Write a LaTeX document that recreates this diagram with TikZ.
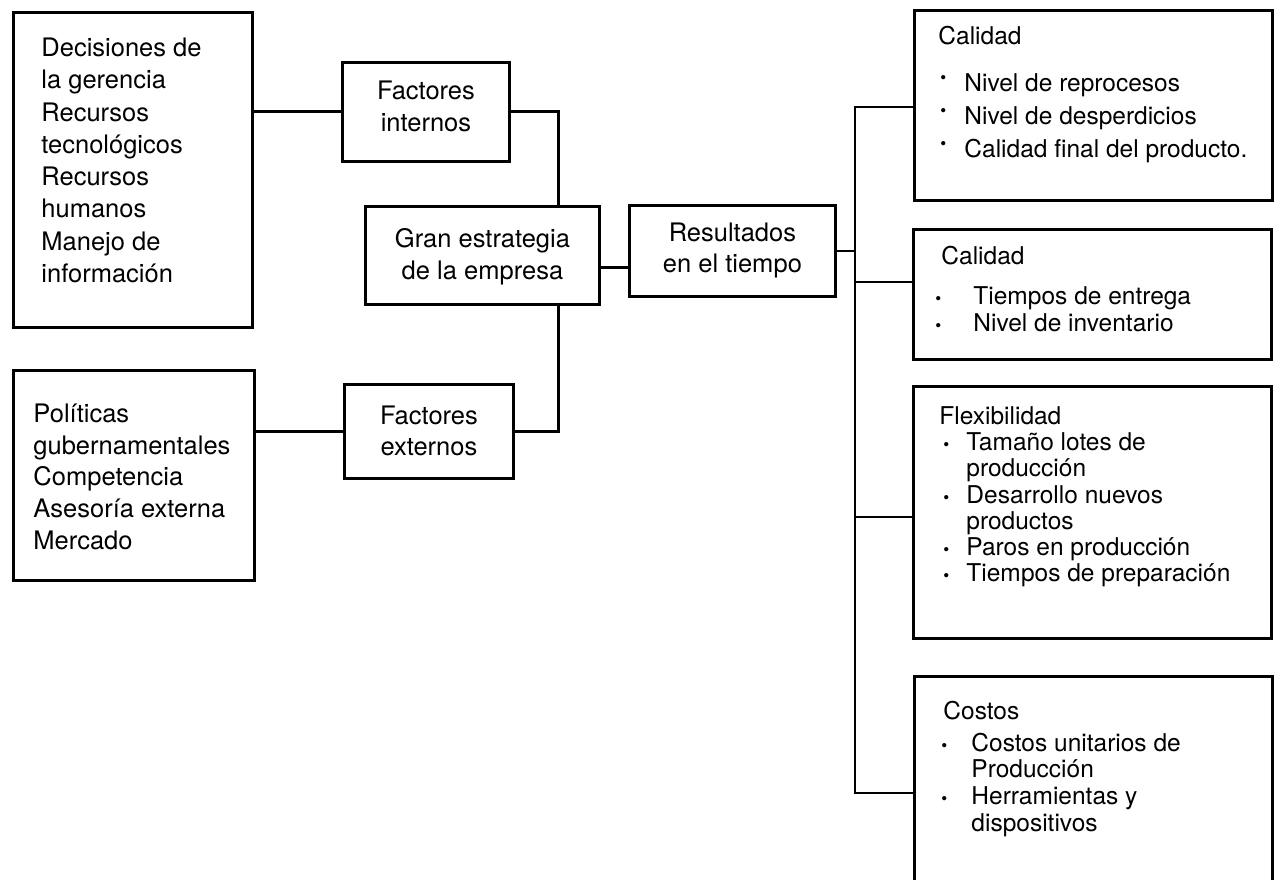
\documentclass[tikz,border=0pt]{standalone}
\usepackage{fontspec}
\setmainfont{TeX Gyre Heros}
% #1 width, #2 height, #3 font size, #4 baselineskip, #5 top pad, #6 content
\newcommand\bxt[6]{\parbox[c][#2][t]{#1}{\fontsize{#3}{#4}\selectfont\lineskiplimit=-100pt\relax\vspace*{#5}#6}}
% #1 bullet centre offset, #2 raise, #3 gap to text
\newcommand\bl[3]{\hspace*{#1}\makebox[0pt]{\raisebox{#2}{\fontsize{17}{17}\selectfont\textbullet}}\hspace*{#3}}
\newcommand\fl{\rule{0pt}{20pt}}
\begin{document}
\begin{tikzpicture}[x=1pt,y=-1pt,
  bx/.style={draw, line width=2.9pt, inner sep=0pt, anchor=north west},
  ln/.style={line width=2.9pt}]
\useasboundingbox (0,0) rectangle (1278,880);

% left column
\node[bx] (a) at (12,11) {\bxt{239pt}{315pt}{25.5}{32.3}{24pt}{\leftskip=28pt\relax\fl Decisiones de\\la gerencia\\Recursos\\tecnológicos\\Recursos\\humanos\\Manejo de\\información}};
\node[bx] (b) at (12,369) {\bxt{241pt}{210pt}{25.5}{31.75}{32pt}{\leftskip=20pt\relax\fl Políticas\\gubernamentales\\Competencia\\Asesoría externa\\Mercado}};

% middle column
\node[bx] (fi) at (341,61) {\bxt{167pt}{99pt}{25.5}{32}{17pt}{\centering\fl Factores\\internos}};
\node[bx] (fe) at (343,383) {\bxt{169pt}{94pt}{25.5}{31}{20pt}{\centering\fl Factores\\externos}};
\node[bx] (ge) at (364,205) {\bxt{234pt}{98pt}{25.5}{32}{21pt}{\centering\fl Gran estrategia\\de la empresa}};
\node[bx] (r) at (628,204) {\bxt{206pt}{91pt}{25.5}{31}{16pt}{\centering\fl Resultados\\en el tiempo}};

% right column
\node[bx] (c1) at (913,9) {\bxt{358pt}{190pt}{24.5}{33}{14pt}{\fl\hspace*{24pt}Calidad\\[14pt]
  \bl{29pt}{8pt}{21pt}Nivel de reprocesos\\
  \bl{29pt}{8pt}{21pt}Nivel de desperdicios\\
  \bl{29pt}{8pt}{21pt}Calidad final del producto.}};
\node[bx] (c2) at (912,228) {\bxt{358pt}{130pt}{24.5}{27}{15pt}{\fl\hspace*{28pt}Calidad\\[13pt]
  \bl{25pt}{0pt}{35pt}Tiempos de entrega\\
  \bl{25pt}{0pt}{35pt}Nivel de inventario}};
\node[bx] (c3) at (912,385) {\bxt{358pt}{252pt}{24.5}{26.2}{18pt}{\fl\hspace*{26pt}Flexibilidad\\
  \bl{33pt}{0pt}{20pt}Tamaño lotes de\\
  \hspace*{53pt}producción\\
  \bl{33pt}{0pt}{20pt}Desarrollo nuevos\\
  \hspace*{53pt}productos\\
  \bl{33pt}{0pt}{20pt}Paros en producción\\
  \bl{33pt}{0pt}{20pt}Tiempos de preparación}};
\node[bx] (c4) at (913,675) {\bxt{358pt}{206pt}{24.5}{26.7}{23pt}{\fl\hspace*{29pt}Costos\\[5pt]
  \bl{30pt}{0pt}{27pt}Costos unitarios de\\
  \hspace*{57pt}Producción\\
  \bl{30pt}{0pt}{27pt}Herramientas y\\
  \hspace*{57pt}dispositivos}};

% connectors
\draw[ln] (a.east |- fi.west) -- (fi.west);
\draw[ln] (fi.east) -| ([xshift=-42pt]ge.north east);
\draw[ln] ([xshift=-42pt]ge.south east) |- (fe.east);
\draw[ln] (b.east |- fe.west) -- (fe.west);
\draw[ln] ([yshift=-12pt]ge.east) -- ([yshift=-16.5pt]r.west);

\coordinate (bt) at (855,107);
\coordinate (b2) at (855,282);
\coordinate (b3) at (855,517);
\coordinate (bb) at (855,793);
\draw[ln] (r.east) -- (r.east -| bt);
\draw[ln] (c1.west |- bt) -- (bt) -- (bb) -- (c4.west |- bb);
\draw[ln] (b2) -- (c2.west |- b2);
\draw[ln] (b3) -- (c3.west |- b3);
\end{tikzpicture}
\end{document}
